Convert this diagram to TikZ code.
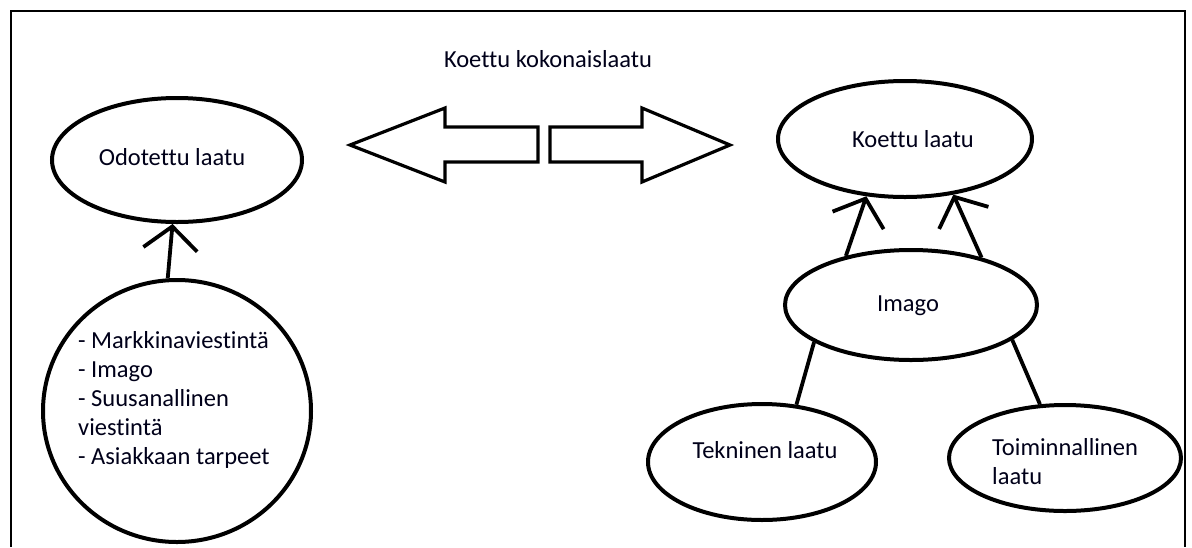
\documentclass[tikz,border=0pt]{standalone}
\usepackage{fontspec}
\setmainfont[Ligatures=NoCommon]{Carlito}
\usetikzlibrary{shapes.geometric,arrows.meta}
\begin{document}
\begin{tikzpicture}[x=1pt,y=-1pt,
  ell/.style={draw, ellipse, line width=4pt, inner sep=0pt},
  lbl/.style={font=\fontsize{24.5}{29}\selectfont, inner sep=0pt, anchor=base, text=black!90!blue},
  blk/.style={font=\fontsize{24.5}{29}\selectfont, inner sep=0pt, anchor=west, align=left, text=black!90!blue},
  con/.style={line width=3.8pt},
  arr/.style={con, -{Straight Barb[length=23pt,width=54pt]}},
  bigarrow/.style={draw, line width=3.2pt, line join=miter, fill=white}]
\useasboundingbox (0,0) rectangle (1192,547);
% frame
\draw[line width=2.5pt] (11,547) -- (11,11) -- (1185,11) -- (1185,547);
% title
\node[lbl] (title) at (548,67) {Koettu kokonaislaatu};
% double block arrow
\draw[bigarrow] (350,145) -- (445,108) -- (445,127) -- (538,127) -- (538,162) -- (445,162) -- (445,182) -- cycle;
\draw[bigarrow] (730,145) -- (642,108) -- (642,127) -- (550,127) -- (550,162) -- (642,162) -- (642,182) -- cycle;
% left side
\node[ell, minimum width=250pt, minimum height=124pt] (odo) at (177,160) {};
\node[lbl] (odot) at (172,165) {Odotettu laatu};
\node[ell, minimum width=268pt, minimum height=262pt] (circ) at (177,411) {};
\node[blk] (circt) at (78,400) {- Markkinaviestintä\\- Imago\\- Suusanallinen\\viestintä\\- Asiakkaan tarpeet};
\draw[arr] (circ.94) -- (odo.266);
% right side
\node[ell, minimum width=254pt, minimum height=116pt] (koe) at (905,139) {};
\node[lbl] (koet) at (913,147) {Koettu laatu};
\node[ell, minimum width=252pt, minimum height=110pt] (ima) at (911,305) {};
\node[lbl] (imat) at (908,311) {Imago};
\node[ell, minimum width=228pt, minimum height=116pt] (tek) at (762,462) {};
\node[lbl] (tekt) at (765,458) {Tekninen laatu};
\node[ell, minimum width=232pt, minimum height=106pt] (toi) at (1065,458) {};
\node[blk] (toit) at (992,462) {Toiminnallinen\\laatu};
\draw[arr] (ima.143) -- (koe.236.5);
\draw[arr] (ima.34.8) -- (koe.311.8);
\draw[con] (ima.201.6) -- (tek.59.2);
\draw[con] (ima.341.1) -- (toi.115.3);
\end{tikzpicture}
\end{document}
